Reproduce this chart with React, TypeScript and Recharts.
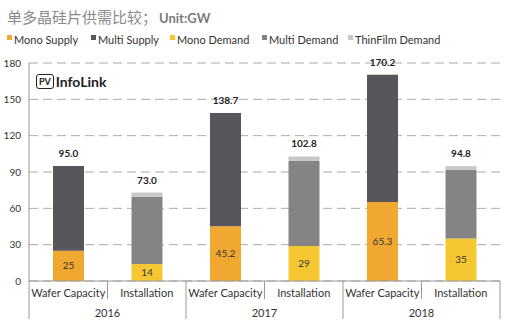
import React from 'react';
import { BarChart, Bar, XAxis, YAxis, CartesianGrid, LabelList } from 'recharts';

const categories = ['Wafer Capacity', 'Installation', 'Wafer Capacity', 'Installation', 'Wafer Capacity', 'Installation'];
const years = ['2016', '2016', '2017', '2017', '2018', '2018'];
const monoSupply = [25, null, 45.2, null, 65.3, null];
const multiSupply = [70, null, 93.5, null, 104.9, null];
const monoDemand = [null, 14, null, 29, null, 35];
const multiDemand = [null, 55.5, null, 70.1, null, 56.7];
const thinFilm = [null, 3.5, null, 3.7, null, 3.1];
const totals = ['95.0', '73.0', '138.7', '102.8', '170.2', '94.8'];
const yTicks = [0, 30, 60, 90, 120, 150, 180];

const data = categories.map((cat, i) => ({
  cat,
  year: years[i],
  monoSupply: monoSupply[i],
  multiSupply: multiSupply[i],
  monoDemand: monoDemand[i],
  multiDemand: multiDemand[i],
  thinFilm: thinFilm[i],
  total: totals[i],
}));

const FONT = 'Lato, "Noto Sans", sans-serif';
const W = 518;
const H = 336;
const M = { top: 63, right: 18, left: 0, bottom: 0 };
const X_H = 55;
const Y_W = 29;
const bandW = (W - M.left - M.right - Y_W) / categories.length;

const legendItems = [
  { name: 'Mono Supply', color: '#F0A830', x: 7 },
  { name: 'Multi Supply', color: '#58565A', x: 91 },
  { name: 'Mono Demand', color: '#F5C832', x: 170 },
  { name: 'Multi Demand', color: '#858385', x: 262 },
  { name: 'ThinFilm Demand', color: '#C8C8C8', x: 348 },
];

const CatTick = (props: any) => {
  const { x, y, payload, index } = props;
  const left = x - bandW / 2;
  return (
    <g>
      <line x1={left} x2={left} y1={y} y2={y + (index % 2 === 0 ? 38 : 18)} stroke="#999" />
      {index === categories.length - 1 && (
        <line x1={x + bandW / 2} x2={x + bandW / 2} y1={y} y2={y + 38} stroke="#999" />
      )}
      <text x={x} y={y + 16} textAnchor="middle" fontSize={11} fill="#333" fontFamily={FONT}>
        {payload.value}
      </text>
      {index % 2 === 1 && (
        <text x={left} y={y + 36} textAnchor="middle" fontSize={11} fill="#333" fontFamily={FONT}>
          {years[index]}
        </text>
      )}
    </g>
  );
};

const totalLabel = (props: any) => {
  const { x, y, width, value } = props;
  if (value == null) return null;
  return (
    <text x={x + width / 2} y={y - 9} textAnchor="middle" fontSize={10} fontWeight="bold" fill="#222" fontFamily={FONT}>
      {value}
    </text>
  );
};

const App: React.FC = () => {
  return (
    <div style={{ position: 'fixed', left: 0, top: 0, width: W, height: H, background: '#fff', fontFamily: FONT }}>
      <div style={{ position: 'absolute', left: 7, top: 6, whiteSpace: 'nowrap', color: '#8a8a8a' }}>
        <span style={{ fontSize: 15, fontFamily: '"Noto Sans CJK SC", sans-serif' }}>单多晶硅片供需比较；</span>
        <span style={{ fontSize: 13, fontWeight: 'bold', color: '#7a7a7a', marginLeft: 2 }}>Unit:GW</span>
      </div>
      {legendItems.map((it) => (
        <div key={it.name} style={{ position: 'absolute', left: it.x, top: 33, whiteSpace: 'nowrap', fontSize: 11, color: '#333' }}>
          <span style={{ display: 'inline-block', width: 5, height: 5, background: it.color, verticalAlign: 'top', marginTop: 2, marginRight: 2 }} />
          {it.name}
        </div>
      ))}
      <div style={{ position: 'absolute', left: 36, top: 73, display: 'flex', alignItems: 'center', color: '#222' }}>
        <span style={{ border: '1.5px solid #222', borderRadius: 3, fontSize: 9, fontWeight: 'bold', padding: '0 2px', lineHeight: '13px' }}>PV</span>
        <span style={{ fontSize: 14, fontWeight: 'bold', marginLeft: 2 }}>InfoLink</span>
      </div>
      <div style={{ position: 'absolute', left: 0, top: 0 }}>
        <BarChart width={W} height={H} data={data} margin={M} barSize={31}>
          <CartesianGrid vertical={false} strokeDasharray="9 5" stroke="#aaa" />
          <XAxis
            dataKey="cat"
            interval={0}
            tickLine={false}
            tickSize={0}
            tickMargin={0}
            height={X_H}
            axisLine={{ stroke: '#999' }}
            tick={<CatTick />}
          />
          <YAxis
            width={Y_W}
            domain={[0, 180]}
            ticks={yTicks}
            tickLine={false}
            axisLine={{ stroke: '#999' }}
            tick={{ fontSize: 10, fill: '#333', fontFamily: FONT }}
          />
          <Bar dataKey="monoSupply" stackId="a" fill="#F0A830" isAnimationActive={false}>
            <LabelList dataKey="monoSupply" position="center" fontSize={10} fill="#333" fontFamily={FONT} />
          </Bar>
          <Bar dataKey="multiSupply" stackId="a" fill="#58565A" isAnimationActive={false}>
            <LabelList dataKey="total" content={totalLabel} />
          </Bar>
          <Bar dataKey="monoDemand" stackId="a" fill="#F5C832" isAnimationActive={false}>
            <LabelList dataKey="monoDemand" position="center" fontSize={10} fill="#333" fontFamily={FONT} />
          </Bar>
          <Bar dataKey="multiDemand" stackId="a" fill="#858385" isAnimationActive={false} />
          <Bar dataKey="thinFilm" stackId="a" fill="#C8C8C8" isAnimationActive={false}>
            <LabelList dataKey="total" content={totalLabel} />
          </Bar>
        </BarChart>
      </div>
    </div>
  );
};

export default App;
